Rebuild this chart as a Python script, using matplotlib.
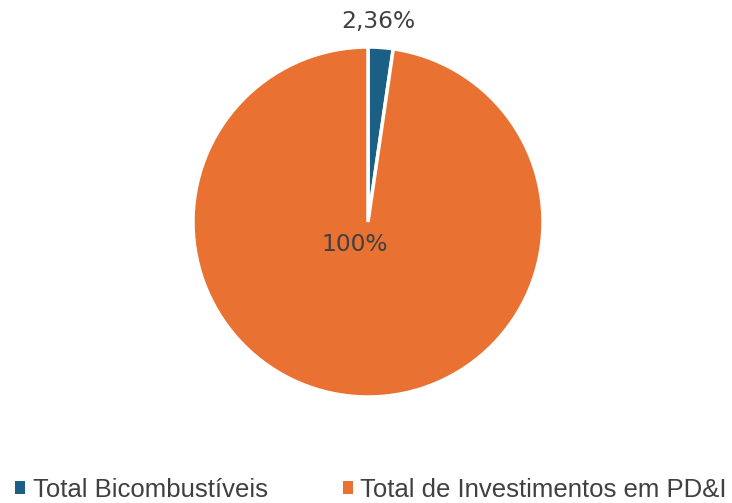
import matplotlib
matplotlib.use("Agg")
import matplotlib.pyplot as plt
from matplotlib.patches import Patch

categories = ["Total Bicombustíveis", "Total de Investimentos em PD&I"]
values = [2.36, 100]
labels = ["2,36%", "100%"]
colors = ["#1B5F84", "#E97132"]
text_color = "#404040"

W, H = 732, 503
fig = plt.figure(figsize=(W / 100, H / 100), dpi=100)
cx, cy, r = 368, 503 - 222, 175
ax = fig.add_axes([(cx - r) / W, (cy - r) / H, 2 * r / W, 2 * r / H])
wedges, _ = ax.pie(values, colors=colors, startangle=90, counterclock=False,
                   wedgeprops=dict(edgecolor="white", linewidth=2.5))
ax.set_xlim(-1, 1)
ax.set_ylim(-1, 1)
ax.set_aspect("equal")
ax.axis("off")

ax.text(0.06, 1.145, labels[0], ha="center", va="center", fontsize=16.8,
        color=text_color, family="DejaVu Sans")
ax.text(-0.075, -0.13, labels[1], ha="center", va="center", fontsize=16.8,
        color=text_color, family="DejaVu Sans")

handles = [Patch(facecolor=c, edgecolor="none") for c in colors]
leg = fig.legend(handles, categories, loc="center", bbox_to_anchor=(371 / W, 1 - 490 / H),
                 ncol=2, frameon=False, handlelength=0.4, handleheight=0.4,
                 handletextpad=0.3, columnspacing=2.9, borderpad=0, borderaxespad=0,
                 prop=dict(family="Liberation Sans", size=18.5))
for t in leg.get_texts():
    t.set_color(text_color)

fig.savefig("out.png", dpi=100)
